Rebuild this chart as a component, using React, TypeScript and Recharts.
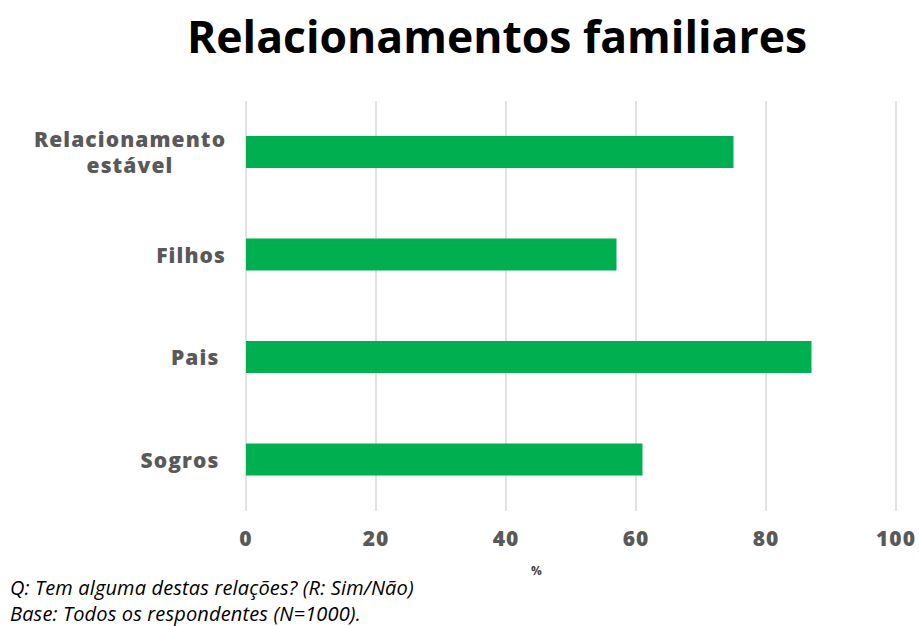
import React from 'react';
import { BarChart, Bar, XAxis, YAxis, CartesianGrid } from 'recharts';

const categories = ['Relacionamento estável', 'Filhos', 'Pais ', 'Sogros '];
const values = [75, 57, 87, 61];
const xTicks = [0, 20, 40, 60, 80, 100];

const data = categories.map((name, i) => ({ name, value: values[i] }));

const FONT = '"Open Sans", "DejaVu Sans", sans-serif';
const GRAY = '#595959';

const YTick = (props: any) => {
  const { x, y, payload } = props;
  const label: string = payload.value;
  const common = { fill: GRAY, fontFamily: FONT, fontWeight: 800, fontSize: 21, letterSpacing: 1.1 } as any;
  if (label === 'Relacionamento estável') {
    return (
      <g>
        <text x={130} y={y - 13} textAnchor="middle" dominantBaseline="central" {...common}>Relacionamento</text>
        <text x={130} y={y + 13} textAnchor="middle" dominantBaseline="central" {...common}>estável</text>
      </g>
    );
  }
  return (
    <text x={x - 12} y={y} textAnchor="end" dominantBaseline="central" {...common} style={{ whiteSpace: 'pre' }}>{label}</text>
  );
};

const XTick = (props: any) => {
  const { x, y, payload } = props;
  return (
    <text x={x} y={y + 19} textAnchor="middle" dominantBaseline="central" fill={GRAY} fontFamily={FONT} fontWeight={800} fontSize={21} letterSpacing={1}>{payload.value}</text>
  );
};

export default function App() {
  return (
    <div style={{ position: 'absolute', left: 0, top: 0, width: 919, height: 626, background: '#fff' }}>
      <div style={{ position: 'absolute', left: 0, top: 5, width: 994, textAlign: 'center', fontFamily: FONT, fontWeight: 700, fontSize: 44.5, color: '#000' }}>
        Relacionamentos familiares
      </div>
      <BarChart
        layout="vertical"
        width={919}
        height={626}
        data={data}
        margin={{ top: 101, right: 23, bottom: 0, left: 0 }}
        barCategoryGap={35}
      >
        <CartesianGrid horizontal={false} vertical={true} stroke="#d9d9d9" strokeWidth={1.5} />
        <XAxis type="number" domain={[0, 100]} ticks={xTicks} axisLine={false} tickLine={false} tick={<XTick />} height={115} interval={0} />
        <YAxis type="category" dataKey="name" width={246} axisLine={false} tickLine={false} tick={<YTick />} interval={0} />
        <Bar dataKey="value" fill="#00B050" isAnimationActive={false} barSize={32} />
      </BarChart>
      <div style={{ position: 'absolute', left: 531, top: 562, fontFamily: FONT, fontWeight: 700, fontSize: 12, color: '#404040' }}>%</div>
      <div style={{ position: 'absolute', left: 10, top: 575, fontFamily: '"Open Sans", sans-serif', fontStyle: 'italic', fontSize: 20, lineHeight: '26px', color: '#000', whiteSpace: 'nowrap', letterSpacing: 0.15 }}>
        <div>Q: Tem alguma destas relações? (R: Sim/Não)</div>
        <div>Base: Todos os respondentes (N=1000).</div>
      </div>
    </div>
  );
}
